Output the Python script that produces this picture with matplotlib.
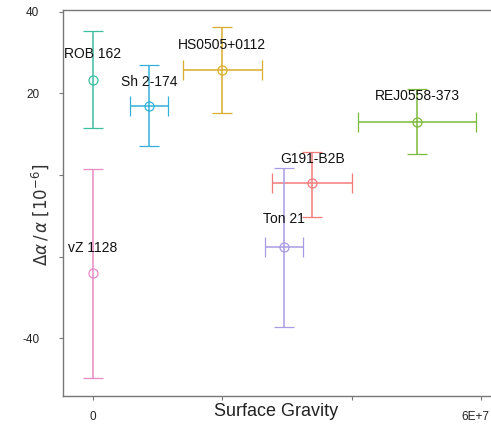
import numpy as np
import matplotlib
matplotlib.use('Agg')
import matplotlib.pyplot as plt
import matplotlib.transforms as mtransforms

plt.rcParams['font.family'] = ['Liberation Sans', 'DejaVu Sans']

# data
names  = ['ROB 162', 'Sh 2-174', 'HS0505+0112', 'REJ0558-373', 'G191-B2B', 'Ton 21', 'vZ 1128']
grav   = [0.0, 8.65e6, 2.0e7, 5.01e7, 3.39e7, 2.95e7, 0.0]
grav_err = [0.0, 2.9e6, 6.1e6, 9.1e6, 6.15e6, 2.9e6, 0.0]
dalpha = [23.3, 16.9, 25.7, 13.05, -2.0, -17.7, -24.1]
err_hi = [11.9, 10.0, 10.5, 8.05, 7.7, 19.3, 25.5]
err_lo = [11.8, 9.7, 10.45, 7.98, 8.2, 19.4, 25.5]
colors = ['#3dbf9f', '#33b0d9', '#d9ad2b', '#7cba3c', '#f37b7b', '#a99be3', '#e88ac4']
label_dy = [6.3, 5.9, 6.1, 6.25, 5.9, 6.9, 6.2]

xticks = [0, 2e7, 4e7, 6e7]
xtick_labels = ['0', '', '', '6E+7']
yticks = [40, 20, 0, -20, -40]
ytick_labels = ['40', '20', '', '', '-40']

fig = plt.figure(figsize=(4.91, 4.26), dpi=100)
ax = fig.add_axes([63/491, 30/426, 1 - 63/491, 386/426])

for i in range(len(names)):
    xe = grav_err[i] if grav_err[i] > 0 else None
    ax.errorbar(grav[i], dalpha[i], yerr=[[err_lo[i]], [err_hi[i]]], xerr=xe,
                fmt='o', mfc='none', mec=colors[i], ms=6.5, mew=0.9,
                ecolor=colors[i], elinewidth=1.1, capsize=7.5, capthick=1.1)
    ax.text(grav[i], dalpha[i] + label_dy[i], names[i], ha='center', va='center',
            fontsize=10, color='#111111')

ax.set_xlim(-4.6e6, 6.15e7)
ax.set_ylim(-54.1, 40.4)
ax.set_xticks(xticks)
ax.set_xticklabels(xtick_labels)
ax.set_yticks(yticks)
ax.set_yticklabels(ytick_labels)

for s in ['top', 'left', 'bottom']:
    ax.spines[s].set_color('#777777')
    ax.spines[s].set_linewidth(1.0)
ax.spines['right'].set_visible(False)
ax.tick_params(colors='#777777', labelcolor='#222222', labelsize=8.5, length=3)
ax.tick_params(axis='x', pad=8)
ax.tick_params(axis='y', pad=14)

# last x label sits against the right edge
lab = ax.get_xticklabels()[-1]
lab.set_horizontalalignment('right')
lab.set_transform(lab.get_transform() + mtransforms.ScaledTranslation(8/100, 0, fig.dpi_scale_trans))

ax.set_xlabel('Surface Gravity', fontsize=13, color='#222222', va='center')
ax.xaxis.set_label_coords(0.498, -0.041)
ax.set_ylabel(r'$\Delta\alpha\,/\,\alpha\ \left[10^{-6}\right]$', fontsize=12,
              color='#333333', va='center')
ax.yaxis.set_label_coords(-0.054, 0.47)

fig.savefig('out.png', dpi=100)
